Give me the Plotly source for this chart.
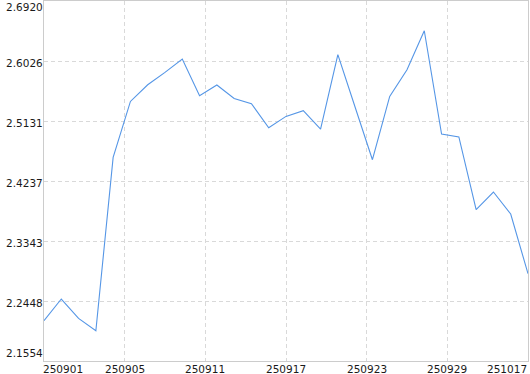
import plotly.graph_objects as go

values = [2.2155, 2.2478, 2.2189, 2.2005, 2.4589, 2.5423, 2.5672, 2.5856, 2.6055,
          2.5508, 2.5668, 2.5468, 2.5389, 2.5031, 2.5200, 2.5285, 2.5012, 2.6120,
          2.5336, 2.4554, 2.5498, 2.5896, 2.6477, 2.4938, 2.4893, 2.3809, 2.4073,
          2.3745, 2.2855]
x_tick_labels = ["250901", "250905", "250911", "250917", "250923", "250929", "251017"]
y_min, y_max = 2.1554, 2.6920
y_tick_labels = ["2.1554", "2.2448", "2.3343", "2.4237", "2.5131", "2.6026", "2.6920"]

n = len(values)
xs = list(range(n))
x_ticks = [i * (n - 1) / 6 for i in range(7)]
y_ticks = [y_min + i * (y_max - y_min) / 6 for i in range(7)]

font = dict(family="DejaVu Sans", size=10.5, color="#1a1a1a")

fig = go.Figure(go.Scatter(x=xs, y=values, mode="lines",
                           line=dict(color="#5596e6", width=1.1)))

annotations = []
for i, (tv, tl) in enumerate(zip(x_ticks, x_tick_labels)):
    if i == 0:
        anchor, xs_ = "left", -3
    elif i == len(x_ticks) - 1:
        anchor, xs_ = "right", 1
    else:
        anchor, xs_ = "center", 0
    annotations.append(dict(x=tv, y=0, xref="x", yref="paper", text=tl, showarrow=False,
                            xanchor=anchor, yanchor="top", font=font, xshift=xs_))
for i, (tv, tl) in enumerate(zip(y_ticks, y_tick_labels)):
    if i == 0:
        ya, ys = "bottom", 0
    elif i == len(y_ticks) - 1:
        ya, ys = "top", 2
    else:
        ya, ys = "middle", -2
    annotations.append(dict(x=0, y=tv, xref="paper", yref="y", text=tl, showarrow=False,
                            xanchor="right", yanchor=ya, yshift=ys, xshift=1, font=font))

fig.update_layout(
    width=530, height=374,
    margin=dict(l=44, r=2, t=1, b=13, autoexpand=False),
    paper_bgcolor="white", plot_bgcolor="white",
    showlegend=False,
    annotations=annotations,
)
fig.update_xaxes(range=[0, n - 1], tickvals=x_ticks, showticklabels=False,
                 showgrid=True, gridcolor="#d9d9d9", griddash="4px,3px", gridwidth=1,
                 showline=True, linecolor="#cccccc", linewidth=1, mirror=True,
                 zeroline=False, ticks="", automargin=False)
fig.update_yaxes(range=[y_min, y_max], tickvals=y_ticks, showticklabels=False,
                 showgrid=True, gridcolor="#d9d9d9", griddash="4px,3px", gridwidth=1,
                 showline=True, linecolor="#cccccc", linewidth=1, mirror=True,
                 zeroline=False, ticks="", automargin=False)

fig.write_html("out.html")
